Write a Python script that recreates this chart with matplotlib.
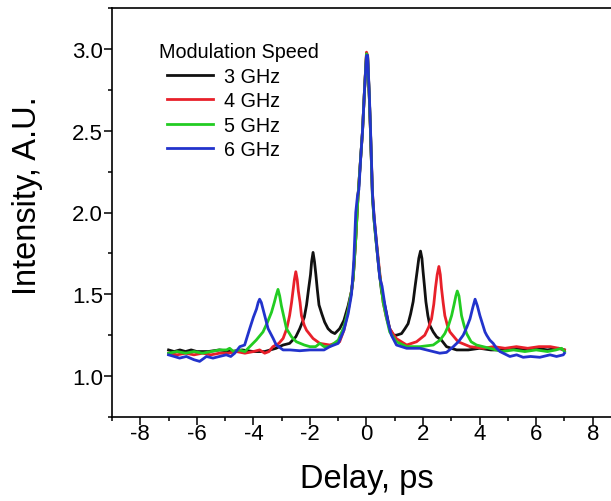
import matplotlib
matplotlib.use('Agg')
import matplotlib.pyplot as plt
from matplotlib.ticker import MultipleLocator, FormatStrFormatter

plt.rcParams['font.family'] = ['Liberation Sans', 'DejaVu Sans']
plt.rcParams['axes.unicode_minus'] = False

# 3 GHz
x3 = [-7.0, -6.8, -6.6, -6.4, -6.2, -6.0, -5.6, -5.2, -4.8, -4.4, -4.0, -3.6, -3.2,
      -2.95, -2.72, -2.5, -2.36, -2.2, -2.12, -2.05, -1.98, -1.94, -1.89, -1.84, -1.79,
      -1.74, -1.68, -1.58, -1.48, -1.36, -1.24, -1.12, -0.95, -0.8, -0.65, -0.53, -0.47,
      -0.38, -0.30, -0.2, -0.14, -0.07, 0.0, 0.04, 0.1, 0.14, 0.21, 0.27, 0.33, 0.45,
      0.53, 0.65, 0.82, 0.95, 1.06, 1.24, 1.36, 1.47, 1.56, 1.65, 1.72, 1.79, 1.85,
      1.91, 1.96, 2.0, 2.05, 2.1, 2.17, 2.24, 2.36, 2.48, 2.65, 2.83, 3.0, 3.19, 3.6,
      4.0, 4.4, 4.8, 5.2, 5.6, 6.0, 6.4, 6.8, 7.0]
y3 = [1.16, 1.15, 1.16, 1.15, 1.16, 1.15, 1.15, 1.16, 1.15, 1.16, 1.15, 1.15, 1.17,
      1.19, 1.20, 1.24, 1.29, 1.36, 1.435, 1.53, 1.62, 1.70, 1.756, 1.70, 1.62,
      1.53, 1.435, 1.38, 1.33, 1.29, 1.27, 1.26, 1.29, 1.34, 1.43, 1.52, 1.60,
      1.84, 2.10, 2.35, 2.50, 2.75, 2.97, 2.95, 2.70, 2.50, 2.10, 1.95, 1.84, 1.64,
      1.52, 1.43, 1.29, 1.25, 1.25, 1.26, 1.29, 1.32, 1.38, 1.455, 1.55, 1.64, 1.72,
      1.764, 1.72, 1.64, 1.55, 1.455, 1.37, 1.31, 1.27, 1.24, 1.22, 1.18, 1.17, 1.16, 1.16,
      1.17, 1.16, 1.16, 1.17, 1.16, 1.17, 1.16, 1.17, 1.16]

# 4 GHz
x4 = [-7.0, -6.7, -6.4, -6.1, -5.8, -5.5, -5.2, -4.9, -4.6, -4.3, -4.0, -3.78, -3.6,
      -3.45, -3.31, -3.1, -2.95, -2.82, -2.72, -2.65, -2.6, -2.55, -2.50, -2.45, -2.41,
      -2.35, -2.30, -2.2, -2.12, -1.89, -1.65, -1.30, -0.95, -0.8, -0.65, -0.53, -0.47,
      -0.38, -0.30, -0.2, -0.14, -0.07, 0.0, 0.04, 0.1, 0.14, 0.21, 0.27, 0.33, 0.45,
      0.59, 0.70, 0.82, 1.05, 1.42, 1.77, 2.06, 2.2, 2.30, 2.38, 2.44, 2.50, 2.56,
      2.61, 2.65, 2.71, 2.77, 2.86, 2.95, 3.24, 3.66, 4.13, 4.5, 4.9, 5.3, 5.7, 6.1,
      6.5, 6.8, 7.0]
y4 = [1.14, 1.13, 1.14, 1.13, 1.14, 1.13, 1.14, 1.14, 1.15, 1.14, 1.15, 1.16, 1.14,
      1.15, 1.18, 1.20, 1.23, 1.29, 1.37, 1.45, 1.52, 1.59, 1.638, 1.59, 1.52,
      1.45, 1.37, 1.31, 1.28, 1.23, 1.20, 1.19, 1.21, 1.28, 1.40, 1.52, 1.60,
      1.84, 2.10, 2.35, 2.50, 2.75, 2.98, 2.96, 2.70, 2.50, 2.12, 1.97, 1.86, 1.66,
      1.45, 1.36, 1.29, 1.23, 1.19, 1.21, 1.25, 1.30, 1.35, 1.44, 1.54, 1.62, 1.67,
      1.62, 1.54, 1.45, 1.37, 1.31, 1.27, 1.21, 1.18, 1.17, 1.18, 1.17, 1.18, 1.17, 1.18,
      1.18, 1.17, 1.16]

# 5 GHz
x5 = [-7.0, -6.7, -6.4, -6.1, -5.8, -5.5, -5.2, -4.95, -4.84, -4.7, -4.5, -4.3, -4.13,
      -3.9, -3.66, -3.5, -3.36, -3.26, -3.2, -3.13, -3.07, -3.01, -2.92, -2.83, -2.65,
      -2.48, -2.2, -2.0, -1.8, -1.65, -1.5, -1.3, -1.0, -0.8, -0.65, -0.53, -0.47,
      -0.38, -0.30, -0.2, -0.14, -0.07, 0.0, 0.04, 0.1, 0.14, 0.21, 0.27, 0.33, 0.45,
      0.59, 0.70, 0.82, 1.06, 1.42, 1.89, 2.36, 2.6, 2.77, 2.9, 3.01, 3.1, 3.16,
      3.21, 3.27, 3.36, 3.45, 3.54, 3.7, 3.89, 4.36, 4.8, 5.2, 5.6, 6.0, 6.4, 6.7,
      6.9, 7.0]
y5 = [1.14, 1.15, 1.14, 1.15, 1.14, 1.15, 1.16, 1.16, 1.17, 1.15, 1.16, 1.15, 1.18,
      1.22, 1.27, 1.33, 1.39, 1.45, 1.49, 1.53, 1.49, 1.43, 1.36, 1.29, 1.24,
      1.21, 1.19, 1.18, 1.18, 1.20, 1.18, 1.18, 1.22, 1.30, 1.40, 1.52, 1.60,
      1.84, 2.10, 2.35, 2.50, 2.75, 2.97, 2.95, 2.70, 2.50, 2.10, 1.95, 1.84, 1.64,
      1.45, 1.36, 1.27, 1.21, 1.18, 1.18, 1.19, 1.22, 1.26, 1.31, 1.37, 1.44, 1.49,
      1.52, 1.49, 1.37, 1.31, 1.26, 1.21, 1.19, 1.17, 1.15, 1.16, 1.15, 1.16, 1.15, 1.16,
      1.17, 1.15]

# 6 GHz
x6 = [-7.0, -6.8, -6.61, -6.37, -6.1, -5.9, -5.66, -5.43, -5.2, -4.96, -4.8, -4.66,
      -4.48, -4.31, -4.13, -4.0, -3.89, -3.83, -3.78, -3.72, -3.66, -3.57, -3.48, -3.3,
      -3.19, -2.95, -2.7, -2.36, -2.0, -1.77, -1.5, -1.30, -1.0, -0.8, -0.65, -0.53,
      -0.45, -0.38, -0.32, -0.27, -0.2, -0.14, -0.07, 0.0, 0.04, 0.1, 0.14, 0.21, 0.27,
      0.33, 0.40, 0.47, 0.55, 0.65, 0.76, 0.88, 1.06, 1.42, 1.89, 2.24, 2.59, 2.83,
      3.07, 3.25, 3.42, 3.55, 3.66, 3.76, 3.84, 3.92, 4.01, 4.1, 4.19, 4.25, 4.36,
      4.48, 4.6, 4.72, 5.07, 5.31, 5.54, 5.8, 6.13, 6.49, 6.72, 6.96, 7.0]
y6 = [1.13, 1.12, 1.11, 1.12, 1.10, 1.09, 1.12, 1.11, 1.12, 1.13, 1.12, 1.14,
      1.18, 1.19, 1.29, 1.36, 1.41, 1.45, 1.47, 1.45, 1.41, 1.35, 1.29, 1.23,
      1.19, 1.16, 1.16, 1.155, 1.16, 1.16, 1.16, 1.18, 1.20, 1.28, 1.38, 1.50,
      1.70, 2.00, 2.10, 2.14, 2.35, 2.50, 2.75, 2.96, 2.96, 2.72, 2.52, 2.12, 1.97,
      1.86, 1.72, 1.60, 1.55, 1.435, 1.33, 1.25, 1.19, 1.17, 1.17, 1.155, 1.14, 1.145,
      1.18, 1.21, 1.25, 1.30, 1.35, 1.42, 1.47, 1.43, 1.37, 1.32, 1.27, 1.25, 1.22,
      1.20, 1.17, 1.15, 1.12, 1.13, 1.115, 1.12, 1.115, 1.13, 1.12, 1.13, 1.14]

labels = ['3 GHz', '4 GHz', '5 GHz', '6 GHz']
colors = ['#111111', '#e8202a', '#22cc22', '#2233cc']
series = [(x3, y3), (x4, y4), (x5, y5), (x6, y6)]

fig = plt.figure(figsize=(6.11, 5.02), dpi=100)
ax = fig.add_axes([112 / 611, 84 / 502, 509 / 611, 409 / 502])

for (xs, ys), lab, c in zip(series, labels, colors):
    ax.plot(xs, ys, color=c, lw=2.0, label=lab)

ax.set_xlim(-9, 9)
ax.set_ylim(0.75, 3.25)
ax.xaxis.set_major_locator(MultipleLocator(2))
ax.xaxis.set_minor_locator(MultipleLocator(1))
ax.yaxis.set_major_locator(MultipleLocator(0.5))
ax.yaxis.set_minor_locator(MultipleLocator(0.25))
ax.yaxis.set_major_formatter(FormatStrFormatter('%.1f'))

for s in ax.spines.values():
    s.set_linewidth(1.2)
ax.tick_params(which='major', direction='out', length=5.5, width=1.1, labelsize=16, pad=1)
ax.tick_params(which='minor', direction='out', length=3, width=1.1)
ax.tick_params(axis='x', which='major', pad=-1.5)

ax.set_xlabel('Delay, ps', fontsize=23.5, labelpad=14)
ax.set_ylabel('Intensity, A.U.', fontsize=23.5)
ax.yaxis.set_label_coords(-0.135, 0.543)

ax.text(159 / 611, 1 - 53 / 502, 'Modulation Speed', transform=fig.transFigure,
        fontsize=14.2, ha='left', va='center')
leg = ax.legend(loc='upper left',
                bbox_to_anchor=(167 / 611, 1 - 68 / 502), bbox_transform=fig.transFigure,
                frameon=False, fontsize=14.2,
                handlelength=2.33, handletextpad=0.56, labelspacing=0.27, borderpad=0,
                borderaxespad=0)

fig.savefig('out.png', dpi=100)
